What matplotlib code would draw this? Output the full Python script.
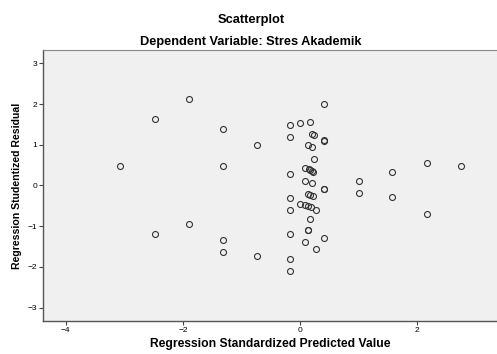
import matplotlib
matplotlib.use("Agg")
import matplotlib.pyplot as plt

plt.rcParams['font.family'] = ['Liberation Sans', 'DejaVu Sans']

title = "Scatterplot"
subtitle = "Dependent Variable: Stres Akademik"
x_label = "Regression Standardized Predicted Value"
y_label = "Regression Studentized Residual"

# predicted values (x) and studentized residuals (y)
pred = [-3.07, -2.48, -1.90, -1.32, -1.32, -0.74, -2.48, -1.90, -1.32, -1.32, -0.74,
        1.58, 2.17, 2.75, 1.58, 2.17, 1.01, 1.01,
        0.42, -0.16, 0.01, 0.18, -0.16, 0.20, 0.24, 0.42, 0.42, 0.14, 0.21, 0.24,
        -0.16, 0.09, 0.15, 0.18, 0.21, 0.23, 0.09, 0.20, 0.42, 0.42, -0.16,
        0.14, 0.17, 0.22, -0.16, 0.01, 0.09, 0.14, 0.19, 0.27, 0.18, 0.14, 0.14,
        -0.16, 0.42, 0.09, 0.27, -0.16, -0.16]
resid = [0.48, 1.63, 2.12, 1.39, 0.48, 0.99, -1.20, -0.95, -1.34, -1.64, -1.72,
         0.32, 0.55, 0.48, -0.29, -0.70, 0.11, -0.19,
         2.00, 1.49, 1.53, 1.57, 1.19, 1.26, 1.25, 1.10, 1.11, 1.00, 0.95, 0.64,
         0.29, 0.44, 0.40, 0.37, 0.35, 0.34, 0.12, 0.06, -0.09, -0.08, -0.30,
         -0.20, -0.23, -0.26, -0.60, -0.45, -0.48, -0.50, -0.53, -0.61, -0.83, -1.10, -1.09,
         -1.20, -1.30, -1.40, -1.55, -1.81, -2.09]

x_ticks = [-4, -2, 0, 2]
y_ticks = [-3, -2, -1, 0, 1, 2, 3]

fig = plt.figure(figsize=(4.97, 3.54), dpi=100)
ax = fig.add_axes([0.0865, 0.093, 0.9135, 0.766])
ax.set_facecolor('#f0f0f0')

ax.plot(pred, resid, linestyle='none', marker='o', markersize=4.3,
        markerfacecolor='none', markeredgecolor='#333333', markeredgewidth=0.8)

ax.set_xlim(-4.39, 3.37)
ax.set_ylim(-3.33, 3.33)
ax.set_xticks(x_ticks)
ax.set_yticks(y_ticks)
ax.tick_params(labelsize=6, length=3, width=0.8, color='#444444', pad=1)

for s in ['left', 'bottom']:
    ax.spines[s].set_color('#555555')
    ax.spines[s].set_linewidth(1.0)
ax.spines['top'].set_color('#888888')
ax.spines['right'].set_visible(False)

ax.set_xlabel(x_label, fontsize=8.7, fontweight='bold', labelpad=3)
ax.set_ylabel(y_label, fontsize=7.6, fontweight='bold', labelpad=4)

fig.text(0.505, 0.943, title, ha='center', va='center', fontsize=9.3, fontweight='bold')
fig.text(0.505, 0.881, subtitle, ha='center', va='center', fontsize=9.2, fontweight='bold')

fig.savefig("out.png", dpi=100)
